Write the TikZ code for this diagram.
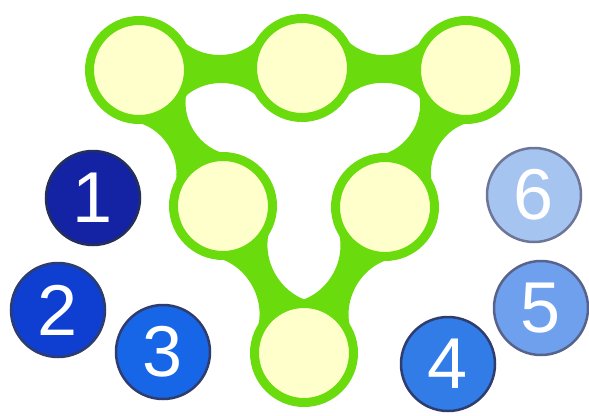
\documentclass[tikz,border=0pt]{standalone}
\usepackage{fontspec}
\setmainfont{Liberation Sans}
\usetikzlibrary{calc,backgrounds}
\definecolor{ringgreen}{HTML}{6ADB0C}
\definecolor{padfill}{HTML}{FFFFCC}
\definecolor{tokenedge}{HTML}{2E3C6E}
\definecolor{blueA}{HTML}{1422A4}
\definecolor{blueB}{HTML}{0E3FD0}
\definecolor{blueC}{HTML}{1766E8}
\definecolor{blueD}{HTML}{317CE6}
\definecolor{blueE}{HTML}{6FA0EE}
\definecolor{blueF}{HTML}{A6C4F0}
\newcommand{\rimr}{52pt}
% green neck between two pads
\newcommand{\bridge}[2]{%
  \fill[ringgreen] ($(#1.center)!\rimr!39:(#2.center)$)
    to[relative, out=-51, in=-129] ($(#2.center)!\rimr!-39:(#1.center)$)
    -- ($(#2.center)!\rimr!39:(#1.center)$)
    to[relative, out=-51, in=-129] ($(#1.center)!\rimr!-39:(#2.center)$)
    -- cycle;}

\begin{document}
\begin{tikzpicture}[x=1pt, y=-1pt,
    pad/.style={circle, draw=ringgreen, line width=9pt, fill=padfill,
      minimum size=99pt, inner sep=0pt},
    token/.style={circle, draw=tokenedge, line width=2.5pt,
      minimum size=94pt, inner sep=0pt, text=white,
      font=\fontsize{72}{72}\selectfont}]
    \useasboundingbox (0,0) rectangle (589,415);

    % the triangle of pads
    \node[pad] (tl) at (139,70) {};
    \node[pad] (tm) at (302,68) {};
    \node[pad] (tr) at (466,70) {};
    \node[pad] (ml) at (223,206) {};
    \node[pad] (mr) at (385,207) {};
    \node[pad] (bot) at (304,353) {};

    \begin{scope}[on background layer]
        \bridge{tl}{tm}
        \bridge{tm}{tr}
        \bridge{tl}{ml}
        \bridge{ml}{bot}
        \bridge{bot}{mr}
        \bridge{mr}{tr}
    \end{scope}

    % numbered tokens
    \node[token, fill=blueA, draw=tokenedge!80!black] (t1) at (93,198) {1};
    \node[token, fill=blueB] (t2) at (58,310) {2};
    \node[token, fill=blueC] (t3) at (163,352) {3};
    \node[token, fill=blueD] (t4) at (448,364) {4};
    \node[token, fill=blueE, draw=tokenedge!80] (t5) at (541,308) {5};
    \node[token, fill=blueF, draw=tokenedge!70] (t6) at (534,195) {6};
\end{tikzpicture}
\end{document}
